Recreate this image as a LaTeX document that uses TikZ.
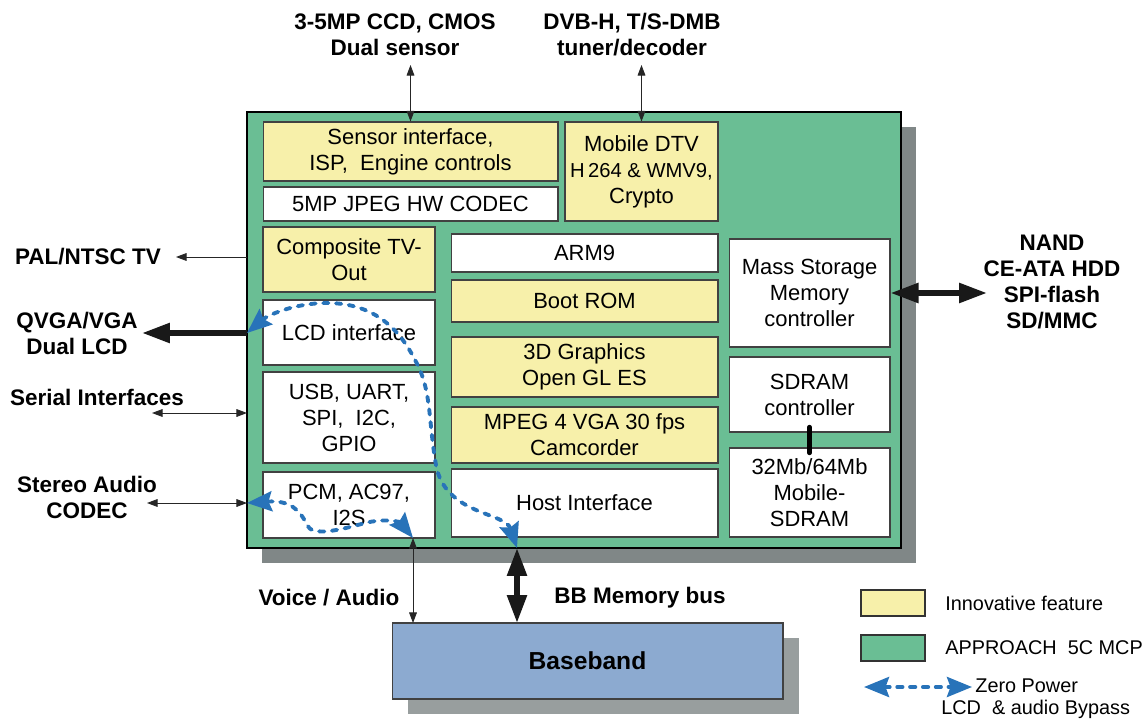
\documentclass[tikz,border=0pt]{standalone}
\usepackage{fontspec}
\setmainfont{Liberation Sans}
\usepackage{tikz}
\usetikzlibrary{arrows.meta,shapes,shadows,calc,positioning}
\definecolor{verdeChip}{RGB}{106,190,148}
\definecolor{amarillo}{RGB}{247,240,170}
\definecolor{azulBase}{RGB}{140,170,208}
\definecolor{azulBypass}{RGB}{40,115,185}
\definecolor{grisSombra}{RGB}{128,135,135}
\definecolor{grisClaro}{RGB}{152,158,158}
\definecolor{grisOscuro}{RGB}{65,65,65}
\newcommand{\boxfont}{\fontsize{12.5}{14.8}\selectfont}
\newcommand{\tagfont}{\fontsize{12.8}{14.8}\selectfont\bfseries}
\newcommand{\legfont}{\fontsize{11.3}{13}\selectfont}
\tikzstyle{block}=[rectangle, draw=grisOscuro, line width=0.6pt,
                   fill=white, inner sep=1pt, align=center, font=\boxfont]
\tikzstyle{newblock}=[block, fill=amarillo]
\tikzstyle{outtext}=[align=center, inner sep=1pt, font=\tagfont]
\tikzstyle{legtext}=[anchor=west, inner sep=0pt, font=\legfont]
\tikzstyle{link}=[>={Triangle[length=6pt,width=4.4pt]}, <->,
                  line width=0.5pt, black!85]
\tikzstyle{wlink}=[>={Triangle[length=0.56cm,width=0.38cm]}, <->,
                   line width=3.2pt, black!90]
\tikzstyle{bypass}=[{Stealth[length=0.5cm,width=0.4cm,inset=0.07cm]}-{Stealth[length=0.5cm,width=0.4cm,inset=0.07cm]},
                    azulBypass, line width=2.2pt, line cap=round,
                    dash pattern=on 3pt off 4.3pt]

\begin{document}
\begin{tikzpicture}[x=0.02cm,y=-0.02cm]
    \useasboundingbox (0,0) rectangle (1148,719);

    % chip and baseband
    \draw (574,330) node (0) [rectangle, draw=black, line width=0.7pt, fill=verdeChip,
        minimum width=13.08cm, minimum height=8.72cm,
        drop shadow={shadow xshift=0.3cm,shadow yshift=-0.3cm,fill=grisSombra,opacity=1}] {};
    \draw (587.5,661) node (20) [block, fill=azulBase, minimum width=7.82cm, minimum height=1.52cm,
        font=\fontsize{14}{16}\selectfont\bfseries,
        drop shadow={shadow xshift=0.32cm,shadow yshift=-0.3cm,fill=grisClaro,opacity=1}] {Baseband};

    % blocks
    \draw (410.5,151.5) node (1) [newblock, minimum width=5.9cm, minimum height=1.18cm] {Sensor interface,\\ISP,\ \ Engine controls};
    \draw (410.5,204) node (2) [block, minimum width=5.9cm, minimum height=0.68cm] {5MP JPEG HW CODEC};
    \draw (641.5,171.5) node (3) [newblock, minimum width=3.06cm, minimum height=1.98cm] {Mobile DTV\\{\fontsize{11.5}{14}\selectfont H\,264 \& WMV9,}\\Crypto};
    \draw (349,259.5) node (4) [newblock, minimum width=3.44cm, minimum height=1.3cm] {Composite TV-\\Out};
    \draw (349,332.5) node (5) [block, minimum width=3.44cm, minimum height=1.3cm] {LCD interface};
    \draw (349,417.5) node (6) [block, minimum width=3.44cm, minimum height=1.82cm] {USB, UART,\\SPI,\ \ I2C,\\GPIO};
    \draw (349,505) node (7) [block, minimum width=3.44cm, minimum height=1.32cm] {PCM, AC97,\\I2S};
    \draw (584.5,253) node (8) [block, minimum width=5.34cm, minimum height=0.76cm] {ARM9};
    \draw (584.5,301) node (9) [newblock, minimum width=5.34cm, minimum height=0.84cm] {Boot ROM};
    \draw (584.5,367) node (10) [newblock, minimum width=5.34cm, minimum height=1.2cm] {3D Graphics\\Open GL ES};
    \draw (584.5,435) node (11) [newblock, minimum width=5.34cm, minimum height=1.12cm] {MPEG 4 VGA 30 fps\\Camcorder};
    \draw (584.5,503) node (12) [block, minimum width=5.34cm, minimum height=1.36cm] {Host Interface};
    \draw (809.5,293) node (13) [block, minimum width=3.22cm, minimum height=2.16cm] {Mass Storage\\Memory\\controller};
    \draw (809.5,394.5) node (14) [block, minimum width=3.22cm, minimum height=1.5cm] {SDRAM\\controller};
    \draw (809.5,492.5) node (15) [block, minimum width=3.22cm, minimum height=1.78cm] {32Mb/64Mb\\Mobile-\\SDRAM};

    % outside labels
    \draw (395,35) node (21) [outtext] {3-5MP CCD, CMOS\\Dual sensor};
    \draw (632,35) node (22) [outtext] {DVB-H, T/S-DMB\\tuner/decoder};
    \draw (88,257) node (23) [outtext] {PAL/NTSC TV};
    \draw (77,333) node (24) [outtext] {QVGA/VGA\\Dual LCD};
    \draw (97,397) node (25) [outtext] {Serial Interfaces};
    \draw (87,497) node (26) [outtext] {Stereo Audio\\CODEC};
    \draw (1052,282) node (27) [outtext] {NAND\\CE-ATA HDD\\SPI-flash\\SD/MMC};
    \draw (329,598) node (28) [outtext] {Voice / Audio};
    \draw (640,598) node (29) [outtext] {BB Memory bus};

    % arrow ends
    \coordinate (31) at (410.5,65);
    \coordinate (32) at (641.5,65);
    \coordinate (33) at (247,257);
    \coordinate (34) at (176,257);
    \coordinate (35) at (247,333);
    \coordinate (36) at (142,333);
    \coordinate (37) at (152,413);
    \coordinate (38) at (247,413);
    \coordinate (39) at (147,503);
    \coordinate (40) at (247,503);
    \coordinate (41) at (413,538);
    \coordinate (42) at (413,623);
    \coordinate (43) at (517,548);
    \coordinate (44) at (517,623);
    \coordinate (45) at (987,293);

    \foreach \i/\j in {31/1,32/3,37/38,39/40,41/42}
        \draw [link] (\i) to (\j);
    \draw [link,->] (33) to (34);
    \draw [wlink,->] (35) to (36);
    \foreach \i/\j in {13/45,43/44}
        \draw [wlink] (\i) to (\j);
    \draw [line width=2.8pt, line cap=round, shorten <=-3pt, shorten >=-3pt] (14) to (15);

    % bypass paths
    \draw [bypass] (43) .. controls (505,512) and (445,515) .. (436,465)
        .. controls (428,420) and (432,390) .. (415,360)
        .. controls (395,320) and (365,303) .. (327,303)
        .. controls (295,303) and (268,315) .. (35);
    \draw [bypass] (40) .. controls (290,500) and (300,510) .. (307,525)
        .. controls (312,537) and (340,530) .. (365,523)
        .. controls (385,518) and (400,522) .. (41);

    % legend
    \draw (893,603) node (50) [rectangle, draw=black!80, line width=0.6pt, fill=amarillo, minimum width=1.28cm, minimum height=0.52cm] {};
    \draw (893,648) node (51) [rectangle, draw=black!80, line width=0.6pt, fill=verdeChip, minimum width=1.28cm, minimum height=0.52cm] {};
    \draw (945,603) node (52) [legtext] {Innovative feature};
    \draw (945,648) node (53) [legtext] {APPROACH\ \ 5C MCP};
    \draw (975,686) node (54) [legtext] {Zero Power};
    \draw (941,709) node (55) [legtext] {LCD\ \ \& audio Bypass};
    \coordinate (46) at (864,687);
    \coordinate (47) at (972,687);
    \draw [bypass] (46) to (47);
\end{tikzpicture}
\end{document}
